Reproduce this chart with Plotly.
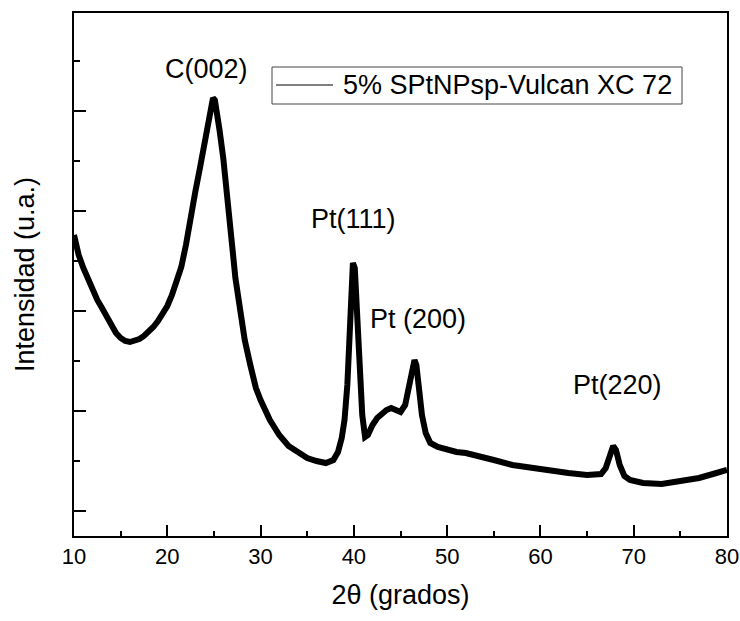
import plotly.graph_objects as go

# 2-theta (degrees)
two_theta = [10.0, 10.5, 11.0, 11.5, 12.0, 12.5, 13.0, 13.5, 14.0, 14.5, 15.0, 15.5, 16.0, 16.5,
             17.0, 17.5, 18.0, 18.5, 19.0, 19.5, 20.0, 20.5, 21.0, 21.5, 22.0, 22.5, 23.0, 23.5,
             24.0, 24.3, 24.6, 24.9, 25.1, 25.3, 25.6, 26.0, 26.3, 26.7, 27.0, 27.3, 27.8, 28.3,
             28.9, 29.5, 30.0, 31.0, 32.0, 33.0, 34.0, 35.0, 36.0, 37.0, 37.8, 38.3, 38.7, 39.0,
             39.3, 39.6, 39.9, 40.1, 40.3, 40.6, 40.9, 41.2, 41.5, 42.0, 42.5, 43.0, 43.5, 44.0,
             44.5, 45.0, 45.5, 45.9, 46.3, 46.5, 46.7, 47.0, 47.3, 47.7, 48.2, 49.0, 50.0, 51.0,
             52.0, 53.5, 55.0, 57.0, 59.0, 61.0, 63.0, 65.0, 66.5, 67.0, 67.4, 67.8, 68.1, 68.5,
             69.0, 69.6, 71.0, 73.0, 75.0, 77.0, 78.5, 80.0]

# intensity (arbitrary units)
intensity = [2760, 2560, 2430, 2310, 2210, 2110, 2030, 1940, 1850, 1780, 1730, 1700, 1690, 1700,
             1720, 1750, 1790, 1840, 1900, 1970, 2050, 2160, 2290, 2440, 2660, 2890, 3190, 3430,
             3690, 3860, 3990, 4130, 4110, 4010, 3810, 3530, 3290, 2960, 2610, 2330, 1980, 1710,
             1460, 1230, 1110, 910, 760, 650, 590, 530, 500, 480, 510, 590, 730, 910,
             1260, 1810, 2480, 2430, 2110, 1410, 960, 740, 760, 860, 930, 970, 1010, 1030,
             1010, 990, 1060, 1260, 1460, 1510, 1460, 1210, 960, 780, 680, 640, 610, 590,
             580, 550, 510, 460, 430, 400, 380, 360, 370, 430, 540, 650, 610, 460,
             350, 310, 280, 270, 300, 330, 370, 410]

x_ticks = [10, 20, 30, 40, 50, 60, 70, 80]

legend_label = "5% SPtNPsp-Vulcan XC 72"
peak_labels = ["C(002)", "Pt(111)", "Pt (200)", "Pt(220)"]
peak_label_x = [24.2, 40.0, 46.9, 68.3]
peak_label_y = [4420, 2920, 1920, 1260]

FONT = "Liberation Sans, Arial, sans-serif"

fig = go.Figure()
fig.add_trace(go.Scatter(x=two_theta, y=intensity, mode="lines",
                         line=dict(color="black", width=6),
                         name=legend_label, showlegend=False))

for t, xx, yy in zip(peak_labels, peak_label_x, peak_label_y):
    fig.add_annotation(x=xx, y=yy, text=t, showarrow=False,
                       font=dict(family=FONT, size=27, color="black"),
                       xanchor="center", yanchor="middle")

# manual legend box
W, H = 653.0, 523.0
def px(p):
    return (p - 74) / W
def py(p):
    return (536 - p) / H

fig.add_shape(type="rect", xref="paper", yref="paper",
              x0=px(272), x1=px(682), y0=py(104), y1=py(67),
              line=dict(color="#444444", width=1), fillcolor="white")
fig.add_shape(type="line", xref="paper", yref="paper",
              x0=px(276), x1=px(333), y0=py(85), y1=py(85),
              line=dict(color="black", width=1))
fig.add_annotation(xref="paper", yref="paper", x=px(341), y=py(85),
                   text=legend_label, showarrow=False,
                   xanchor="left", yanchor="middle",
                   font=dict(family=FONT, size=27, color="black"))

fig.update_layout(
    width=740, height=621,
    margin=dict(l=74, r=13, t=13, b=85, autoexpand=False),
    paper_bgcolor="white", plot_bgcolor="white",
    font=dict(family=FONT, color="black"),
    showlegend=False,
)
fig.update_xaxes(
    range=[10, 80], tickvals=x_ticks, ticks="inside", ticklen=11, tickwidth=2,
    tickcolor="black", showline=True, linewidth=2, linecolor="black", mirror=True,
    showgrid=False, zeroline=False, automargin=False,
    tickfont=dict(family=FONT, size=22, color="black"),
    minor=dict(dtick=5, tick0=15, ticks="inside", ticklen=5, tickwidth=2, tickcolor="black", showgrid=False),
    title=dict(text="2\u03b8 (grados)", font=dict(family=FONT, size=27, color="black"), standoff=17),
)
fig.update_yaxes(
    range=[-250, 4980], tick0=0, dtick=1000, ticks="inside", ticklen=12, tickwidth=2,
    tickcolor="black", showline=True, linewidth=2, linecolor="black", mirror=True,
    showgrid=False, zeroline=False, showticklabels=False, automargin=False,
    minor=dict(dtick=500, ticks="inside", ticklen=6, tickwidth=2, tickcolor="black", showgrid=False),
    title=dict(text="Intensidad (u.a.)", font=dict(family=FONT, size=27, color="black"), standoff=30),
)

fig.write_html("out.html")
